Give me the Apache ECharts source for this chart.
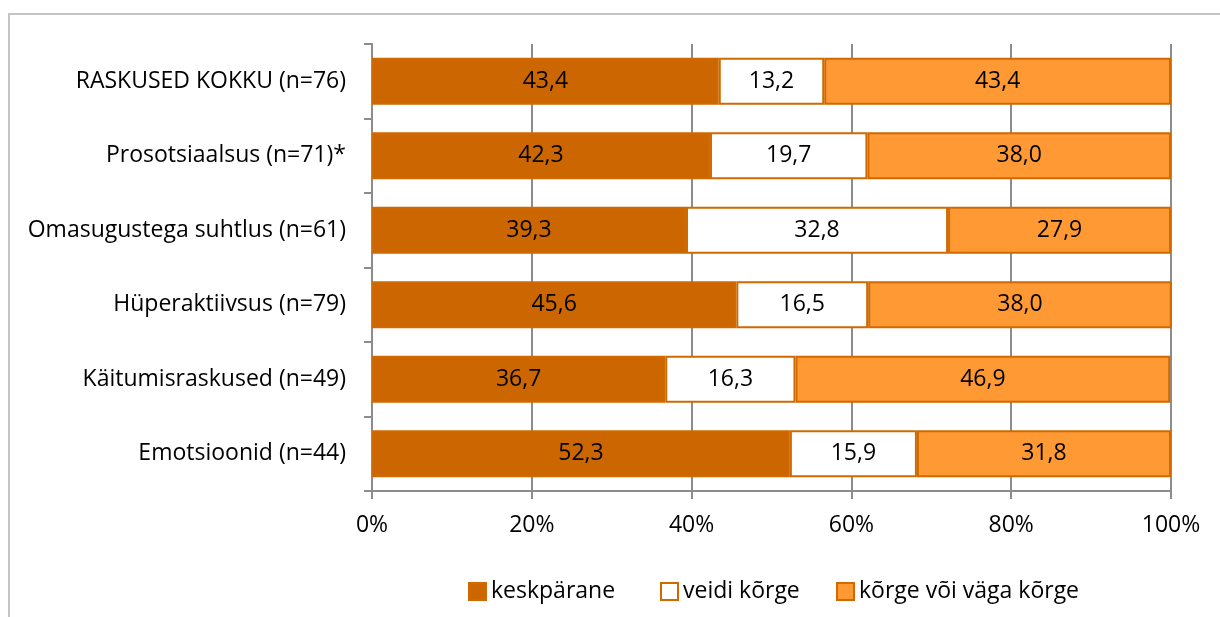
<!DOCTYPE html>
<html>
<head>
<meta charset="utf-8">
<script src="https://cdn.jsdelivr.net/npm/echarts@6/dist/echarts.min.js"></script>
<style>
  html, body { margin: 0; padding: 0; background: #fff; }
  #chart { width: 1220px; height: 617px; }
</style>
</head>
<body>
<div id="chart"></div>
<script>
// kategooriad ülalt alla
const categories = [
    'RASKUSED KOKKU (n=76)',
    'Prosotsiaalsus (n=71)*',
    'Omasugustega suhtlus (n=61)',
    'Hüperaktiivsus (n=79)',
    'Käitumisraskused (n=49)',
    'Emotsioonid (n=44)'
];
const seriesNames = ['keskpärane', 'veidi kõrge', 'kõrge või väga kõrge'];
const keskparane = [43.4, 42.3, 39.3, 45.6, 36.7, 52.3];
const veidiKorge = [13.2, 19.7, 32.8, 16.5, 16.3, 15.9];
const korge = [43.4, 38.0, 27.9, 38.0, 46.9, 31.8];
const xTicks = [0, 20, 40, 60, 80, 100];

const fontFamily = '"Open Sans", "Noto Sans", sans-serif';
const fontSize = 23;
const colors = ['#CC6600', '#FFFFFF', '#FF9933'];
const borderOrange = '#D06A00';
const axisGray = '#8c8c8c';

const chart = echarts.init(document.getElementById('chart'));

const fmt = v => v.toFixed(1).replace('.', ',');

const series = [keskparane, veidiKorge, korge].map((data, i) => ({
    name: seriesNames[i],
    type: 'bar',
    stack: 'total',
    data: data,
    barCategoryGap: '37%',
    itemStyle: { color: colors[i], borderColor: borderOrange, borderWidth: 2 },
    label: {
        show: true,
        position: 'inside',
        color: '#000',
        fontFamily: fontFamily,
        fontSize: fontSize,
        formatter: p => fmt(p.value)
    },
    emphasis: { disabled: true }
}));

// Exceli legend: iga kirje oma kohal
const legendLefts = [468, 660, 836];
const legends = seriesNames.map((name, i) => ({
    data: [name],
    left: legendLefts[i],
    top: 580,
    padding: 0,
    itemWidth: 17,
    itemHeight: 17,
    icon: 'rect',
    selectedMode: false,
    textStyle: { fontSize: fontSize, lineHeight: 23, color: '#000', fontFamily: fontFamily },
    itemStyle: { borderColor: borderOrange, borderWidth: 2 }
}));

const option = {
    animation: false,
    textStyle: { fontFamily: fontFamily },
    grid: { left: 372, right: 49, top: 44, bottom: 126, containLabel: false },
    graphic: [{
        type: 'rect',
        shape: { x: 9, y: 14, width: 1400, height: 800 },
        style: { fill: 'none', stroke: '#c4c4c4', lineWidth: 2 },
        silent: true,
        z: -1
    }],
    legend: legends,
    xAxis: {
        type: 'value',
        min: 0,
        max: 100,
        interval: 20,
        axisLine: { show: true, lineStyle: { color: axisGray, width: 2 } },
        axisTick: { show: true, length: 8, lineStyle: { color: axisGray, width: 2 } },
        splitLine: { show: true, lineStyle: { color: axisGray, width: 2 } },
        axisLabel: {
            margin: 23,
            fontSize: fontSize,
            color: '#000',
            fontFamily: fontFamily,
            formatter: v => xTicks.includes(v) ? v + '%' : ''
        }
    },
    yAxis: {
        type: 'category',
        data: categories,
        inverse: true,
        axisLine: { show: true, lineStyle: { color: axisGray, width: 2 } },
        axisTick: { show: true, length: 8, lineStyle: { color: axisGray, width: 2 } },
        axisLabel: { margin: 26, fontSize: fontSize, color: '#000', fontFamily: fontFamily }
    },
    series: series
};

chart.setOption(option);
</script>
</body>
</html>
